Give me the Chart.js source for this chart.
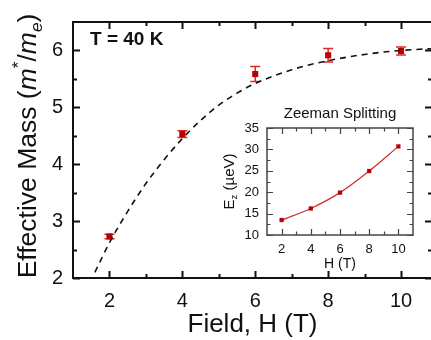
<!DOCTYPE html>
<html>
<head>
<meta charset="utf-8">
<script src="https://cdn.jsdelivr.net/npm/chart.js@4.4.1/dist/chart.umd.min.js"></script>
<style>
  html, body { margin:0; padding:0; background:#fff; overflow:hidden; }
  #wrap { position:relative; width:431px; height:340px; overflow:hidden; }
  #main { position:absolute; left:0; top:0; }
  #inset { position:absolute; left:215px; top:95px; }
</style>
</head>
<body>
<div id="wrap">
  <canvas id="main" width="440" height="340"></canvas>
  <canvas id="inset" width="210" height="180"></canvas>
</div>
<script>
// main panel data
var field = [2, 4, 6, 8, 10]
var mass = [2.73, 4.53, 5.585, 5.915, 5.99]
var massErr = [0.04, 0.06, 0.133, 0.117, 0.07]
var fitField = [1.6, 2, 2.5, 3, 3.5, 4, 4.5, 5, 5.5, 6, 6.5, 7, 7.5, 8, 8.5, 9, 9.5, 10, 10.5, 10.85]
var fitMass = [2.10, 2.62, 3.17, 3.66, 4.08, 4.45, 4.77, 5.04, 5.25, 5.42, 5.55, 5.66, 5.75, 5.82, 5.88, 5.93, 5.97, 6.00, 6.02, 6.03]
var xTicks = [2, 4, 6, 8, 10]
var xMinor = [3, 5, 7, 9]
var yTicks = [2, 3, 4, 5, 6]
var yMinor = [2.5, 3.5, 4.5, 5.5]

// inset data
var zeemanH = [2, 4, 6, 8, 10]
var zeemanE = [13.5, 16.2, 19.9, 24.95, 30.7]
var insetXTicks = [2, 4, 6, 8, 10]
var insetXMinor = [3, 5, 7, 9]
var insetYTicks = [10, 15, 20, 25, 30, 35]
var insetYMinor = [12.5, 17.5, 22.5, 27.5, 32.5]

var FONT = "'Liberation Sans', Arial, sans-serif"

function pts(xs, ys){
  return xs.map(function(x, i){ return {x: x, y: ys[i]} })
}

// frame with inward ticks on all four sides
function framePlugin(o){
  return {
    id: 'frame',
    afterDraw: function(chart){
      var c = chart.ctx, a = chart.chartArea
      var sx = chart.scales.x, sy = chart.scales.y
      c.save()
      c.strokeStyle = o.color
      c.lineWidth = o.width
      c.strokeRect(a.left, a.top, a.right - a.left, a.bottom - a.top)
      function tx(list, len){
        list.forEach(function(v){
          var p = Math.round(sx.getPixelForValue(v)) + 0.5
          c.beginPath()
          c.moveTo(p, a.bottom); c.lineTo(p, a.bottom - len)
          c.moveTo(p, a.top); c.lineTo(p, a.top + len)
          c.stroke()
        })
      }
      function ty(list, len){
        list.forEach(function(v){
          var p = Math.round(sy.getPixelForValue(v)) + 0.5
          c.beginPath()
          c.moveTo(a.left, p); c.lineTo(a.left + len, p)
          c.moveTo(a.right, p); c.lineTo(a.right - len, p)
          c.stroke()
        })
      }
      c.lineWidth = o.tickWidth
      tx(o.xMajor, o.major); tx(o.xMinor, o.minor)
      ty(o.yMajor, o.major); ty(o.yMinor, o.minor)
      c.restore()
    }
  }
}

// text made of pieces (italic, sup, sub), optionally rotated
function richText(c, parts, x, y, size, rotate){
  c.save()
  c.translate(x, y)
  if (rotate) c.rotate(-Math.PI / 2)
  c.fillStyle = '#111'
  c.textBaseline = 'alphabetic'
  var total = 0
  parts.forEach(function(p){
    var s = p.sup || p.sub ? size * 0.65 : size
    c.font = (p.it ? 'italic ' : '') + s + 'px ' + FONT
    p.w = c.measureText(p.t).width
    total += p.w
  })
  var cx = -total / 2
  parts.forEach(function(p){
    var s = p.sup || p.sub ? size * 0.65 : size
    c.font = (p.it ? 'italic ' : '') + s + 'px ' + FONT
    var dy = p.sup ? -size * 0.45 : (p.sub ? size * 0.22 : 0)
    c.fillText(p.t, cx, dy)
    cx += p.w
  })
  c.restore()
}

var errorBars = {
  id: 'errorBars',
  beforeDatasetsDraw: function(chart){
    var c = chart.ctx, sx = chart.scales.x, sy = chart.scales.y
    c.save()
    c.strokeStyle = '#e02a2a'
    c.lineWidth = 1.5
    field.forEach(function(f, i){
      var px = sx.getPixelForValue(f)
      var top = sy.getPixelForValue(mass[i] + massErr[i])
      var bot = sy.getPixelForValue(mass[i] - massErr[i])
      c.beginPath()
      c.moveTo(px, top); c.lineTo(px, bot)
      c.moveTo(px - 5, top); c.lineTo(px + 5, top)
      c.moveTo(px - 5, bot); c.lineTo(px + 5, bot)
      c.stroke()
    })
    c.restore()
  }
}

var mainLabels = {
  id: 'mainLabels',
  afterDraw: function(chart){
    var c = chart.ctx
    richText(c, [
      {t: 'Effective Mass ('}, {t: 'm', it: true}, {t: '*', sup: true}, {t: '/'},
      {t: 'm', it: true}, {t: 'e', sub: true, it: true}, {t: ')'}
    ], 36, 146, 26.5, true)
    c.save()
    c.font = 'bold 19px ' + FONT
    c.fillStyle = '#111'
    c.fillText('T = 40 K', 90, 45)
    c.restore()
  }
}

new Chart(document.getElementById('main'), {
  type: 'scatter',
  data: {
    datasets: [{
      label: 'fit',
      data: pts(fitField, fitMass),
      showLine: true,
      borderColor: '#111',
      borderWidth: 1.6,
      borderDash: [6, 5],
      pointRadius: 0,
      cubicInterpolationMode: 'monotone'
    }, {
      label: 'mass',
      data: pts(field, mass),
      pointStyle: 'rect',
      pointRadius: 4.3,
      backgroundColor: '#b80000',
      borderColor: '#b80000',
      borderWidth: 0
    }]
  },
  options: {
    responsive: false,
    animation: false,
    layout: { padding: { left: 0, top: 14, right: 8, bottom: 0 } },
    plugins: { legend: { display: false }, tooltip: { enabled: false } },
    scales: {
      x: {
        type: 'linear', min: 1, max: 10.85,
        afterFit: function(s){ s.height = 62 },
        afterBuildTicks: function(s){ s.ticks = xTicks.map(function(v){ return {value: v} }) },
        grid: { display: false, drawTicks: false, tickLength: 0 },
        border: { display: false },
        ticks: { color: '#111', font: { family: FONT, size: 20 }, padding: 11, maxRotation: 0 },
        title: { display: true, text: 'Field, H (T)', color: '#111', font: { family: FONT, size: 26 }, padding: { top: 0, bottom: 0 } }
      },
      y: {
        type: 'linear', min: 2, max: 6.5,
        afterFit: function(s){ s.width = 73 },
        afterBuildTicks: function(s){ s.ticks = yTicks.map(function(v){ return {value: v} }) },
        grid: { display: false, drawTicks: false, tickLength: 0 },
        border: { display: false },
        ticks: { color: '#111', font: { family: FONT, size: 20 }, padding: 10 }
      }
    }
  },
  plugins: [errorBars, mainLabels, framePlugin({
    color: '#111', width: 2, tickWidth: 2, major: 7, minor: 4,
    xMajor: xTicks, xMinor: xMinor, yMajor: yTicks, yMinor: yMinor
  })]
})

var insetLabels = {
  id: 'insetLabels',
  afterDraw: function(chart){
    var c = chart.ctx, a = chart.chartArea
    richText(c, [{t: 'E'}, {t: 'z', sub: true}, {t: ' (\u00b5eV)'}], 19, (a.top + a.bottom) / 2, 15, true)
    c.save()
    c.font = '15px ' + FONT
    c.fillStyle = '#111'
    c.textAlign = 'center'
    c.fillText('Zeeman Splitting', (a.left + a.right) / 2, 23)
    c.restore()
  }
}

new Chart(document.getElementById('inset'), {
  type: 'scatter',
  data: {
    datasets: [{
      label: 'Ez',
      data: pts(zeemanH, zeemanE),
      showLine: true,
      borderColor: '#d42a2a',
      borderWidth: 1.2,
      cubicInterpolationMode: 'monotone',
      pointStyle: 'rect',
      pointRadius: 3,
      backgroundColor: '#b80000',
      pointBorderColor: '#b80000',
      pointBorderWidth: 0
    }]
  },
  options: {
    responsive: false,
    animation: false,
    layout: { padding: { left: 0, top: 33, right: 12, bottom: 0 } },
    plugins: { legend: { display: false }, tooltip: { enabled: false } },
    scales: {
      x: {
        type: 'linear', min: 1, max: 11,
        afterFit: function(s){ s.height = 40 },
        afterBuildTicks: function(s){ s.ticks = insetXTicks.map(function(v){ return {value: v} }) },
        grid: { display: false, drawTicks: false, tickLength: 0 },
        border: { display: false },
        ticks: { color: '#111', font: { family: FONT, size: 13 }, padding: 7, maxRotation: 0 },
        title: { display: true, text: 'H (T)', color: '#111', font: { family: FONT, size: 14 }, padding: { top: 0, bottom: 2 } }
      },
      y: {
        type: 'linear', min: 10, max: 35,
        afterFit: function(s){ s.width = 52 },
        afterBuildTicks: function(s){ s.ticks = insetYTicks.map(function(v){ return {value: v} }) },
        grid: { display: false, drawTicks: false, tickLength: 0 },
        border: { display: false },
        ticks: { color: '#111', font: { family: FONT, size: 13 }, padding: 8 }
      }
    }
  },
  plugins: [insetLabels, framePlugin({
    color: '#444', width: 1.5, tickWidth: 1.2, major: 6, minor: 3.5,
    xMajor: insetXTicks, xMinor: insetXMinor, yMajor: insetYTicks, yMinor: insetYMinor
  })]
})
</script>
</body>
</html>
